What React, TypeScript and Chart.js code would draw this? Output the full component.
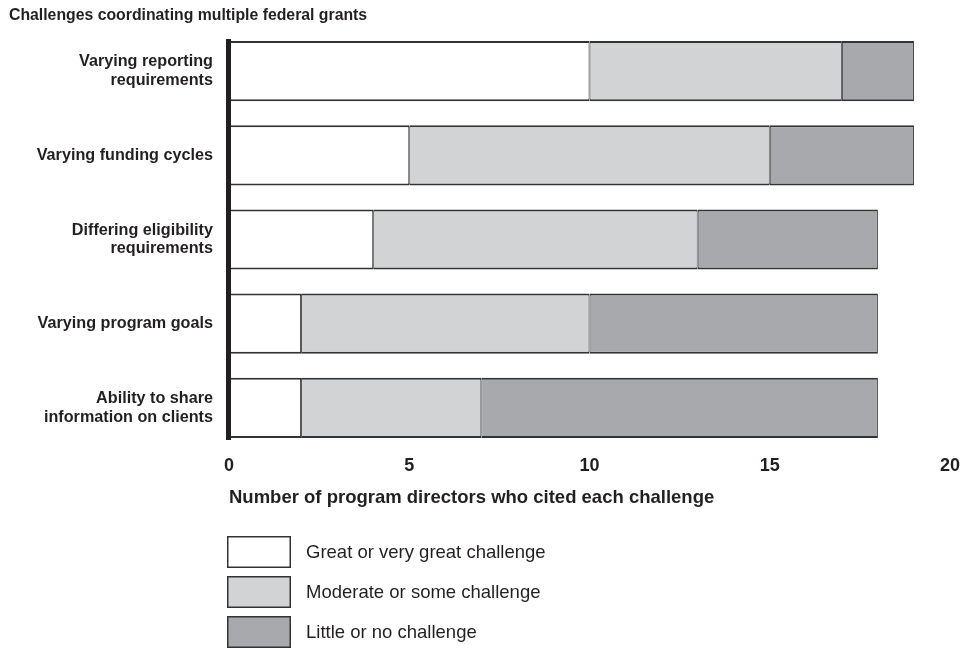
import React, { useEffect, useRef } from "react";
import { Chart, registerables } from "chart.js";

Chart.register(...registerables);

const chartTitle = "Challenges coordinating multiple federal grants";
const axisTitle = "Number of program directors who cited each challenge";
const categories: string[][] = [
  ["Varying reporting", "requirements"],
  ["Varying funding cycles"],
  ["Differing eligibility", "requirements"],
  ["Varying program goals"],
  ["Ability to share", "information on clients"],
];
const seriesNames = [
  "Great or very great challenge",
  "Moderate or some challenge",
  "Little or no challenge",
];
const greatValues = [10, 5, 4, 2, 2];
const moderateValues = [7, 10, 9, 8, 5];
const littleValues = [2, 4, 5, 8, 11];
const xTicks = [0, 5, 10, 15, 20];

const colors = ["#ffffff", "#d1d3d4", "#a7a9ac"];
const borderColor = "#333333";
const textColor = "#231f20";
const FONT = "Arial, 'Liberation Sans', Helvetica, sans-serif";

const decorPlugin = {
  id: "decor",
  afterDatasetsDraw(chart: any) {
    const { ctx, chartArea } = chart;
    ctx.save();
    ctx.fillStyle = textColor;
    ctx.fillRect(chartArea.left - 3, chartArea.top + 10, 5, chartArea.bottom - chartArea.top - 20);
    ctx.restore();
  },
  afterDraw(chart: any) {
    const { ctx } = chart;
    ctx.save();
    ctx.fillStyle = textColor;
    ctx.font = `bold 15.8px ${FONT}`;
    ctx.textBaseline = "middle";
    ctx.textAlign = "left";
    ctx.fillText(chartTitle, 9, 16);
    const boxX = 227;
    const boxW = 64;
    const boxH = 32;
    const startY = 536;
    const step = 40;
    seriesNames.forEach((name, i) => {
      const y = startY + i * step;
      ctx.fillStyle = colors[i];
      ctx.fillRect(boxX, y, boxW, boxH);
      ctx.strokeStyle = borderColor;
      ctx.lineWidth = 1.5;
      ctx.strokeRect(boxX + 0.75, y + 0.75, boxW - 1.5, boxH - 1.5);
      ctx.fillStyle = textColor;
      ctx.font = `18.5px ${FONT}`;
      ctx.textBaseline = "middle";
      ctx.fillText(name, 306, y + boxH / 2 + 1);
    });
    ctx.restore();
  },
};

export default function App() {
  const ref = useRef<HTMLCanvasElement | null>(null);
  useEffect(() => {
    if (!ref.current) return;
    const bw = { top: 2, bottom: 2, left: 1, right: 1 };
    const chart = new Chart(ref.current, {
      type: "bar",
      data: {
        labels: categories,
        datasets: [
          { label: seriesNames[0], data: greatValues, backgroundColor: colors[0] },
          { label: seriesNames[1], data: moderateValues, backgroundColor: colors[1] },
          { label: seriesNames[2], data: littleValues, backgroundColor: colors[2] },
        ].map((d) => ({
          ...d,
          borderColor,
          borderWidth: bw,
          borderSkipped: false,
          barPercentage: 0.715,
          categoryPercentage: 1,
        })),
      },
      options: {
        indexAxis: "y",
        responsive: false,
        animation: false,
        devicePixelRatio: 1,
        layout: { padding: { top: 29, right: 28, bottom: 138, left: 0 } },
        plugins: {
          legend: { display: false },
          title: { display: false },
          tooltip: { enabled: false },
        },
        scales: {
          x: {
            stacked: true,
            min: 0,
            max: 20,
            afterBuildTicks: (axis: any) => {
              axis.ticks = xTicks.map((v) => ({ value: v }));
            },
            afterFit: (axis: any) => {
              axis.height = 60;
            },
            grid: { display: false, drawTicks: false },
            border: { display: false },
            ticks: {
              color: textColor,
              font: { family: FONT, size: 18, weight: "bold" },
              padding: 5,
              maxRotation: 0,
            },
            title: {
              display: true,
              text: axisTitle,
              align: "start",
              color: textColor,
              font: { family: FONT, size: 18.5, weight: "bold" },
              padding: { top: 0, bottom: 1 },
            },
          },
          y: {
            stacked: true,
            afterFit: (axis: any) => {
              axis.width = 229;
            },
            grid: { display: false },
            border: { display: false },
            ticks: {
              color: textColor,
              font: { family: FONT, size: 16.2, weight: "bold", lineHeight: 1.15 },
              padding: 8,
            },
          },
        },
      } as any,
      plugins: [decorPlugin],
    });
    return () => chart.destroy();
  }, []);
  return (
    <div style={{ position: "absolute", left: 0, top: 0, width: 978, height: 648, background: "#fff" }}>
      <canvas ref={ref} width={978} height={648} style={{ display: "block" }} />
    </div>
  );
}
